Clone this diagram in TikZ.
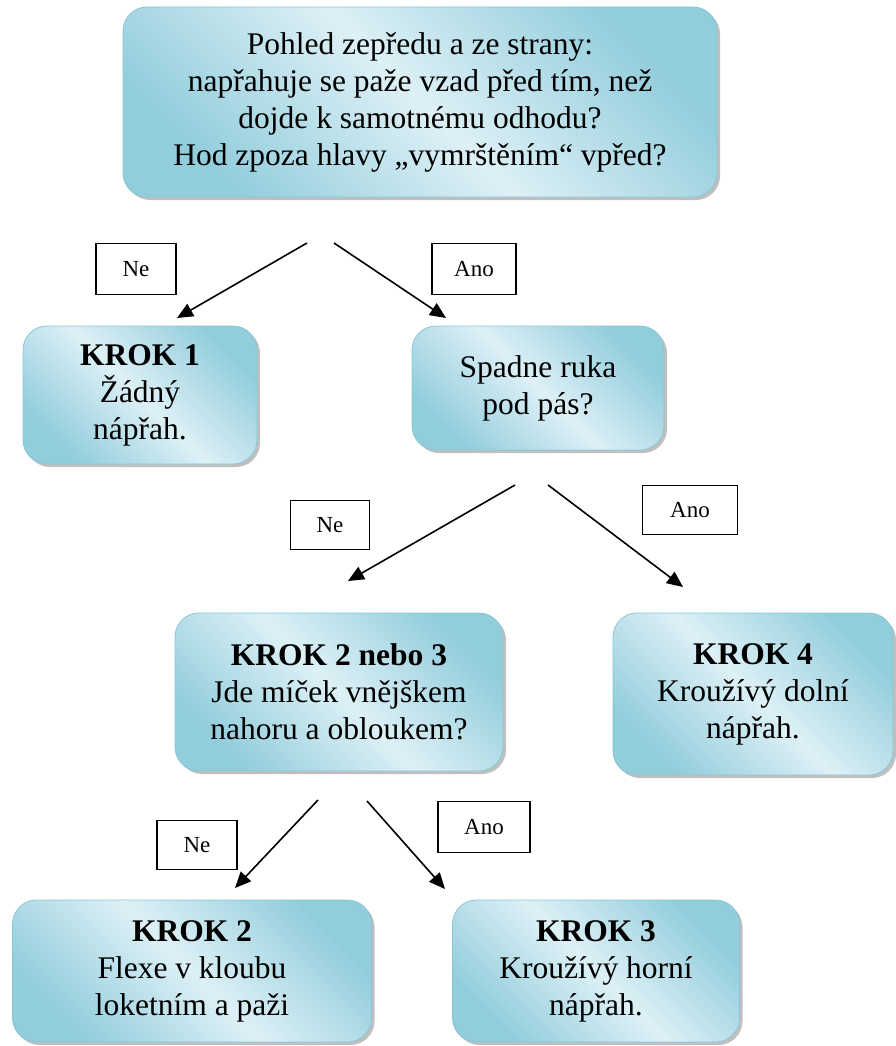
\documentclass[tikz,border=0pt]{standalone}
\usepackage{fontspec}
\setmainfont{Liberation Serif}
\usetikzlibrary{arrows.meta,shadows}
\definecolor{aquaD}{HTML}{92CDDC}
\definecolor{aquaL}{HTML}{DDF0F6}
\definecolor{aquaB}{HTML}{8AC6D6}
\begin{document}
\begin{tikzpicture}[x=1pt,y=-1pt,
  box/.style={rectangle, rounded corners=24pt, draw=aquaB, line width=0.8pt,
    left color=aquaD, right color=aquaD, middle color=aquaL, shading angle=135,
    align=center, font=\fontsize{31.5}{37}\selectfont, inner sep=0pt,
    drop shadow={shadow xshift=3pt, shadow yshift=-3pt, fill=black!50, opacity=0.5}},
  lab/.style={rectangle, draw=black, line width=1.3pt, fill=white,
    font=\fontsize{23}{27}\selectfont, inner sep=0pt},
  arr/.style={line width=1.6pt, -{Triangle[length=16pt,width=14pt]}}]
\useasboundingbox (0,0) rectangle (895,1046);

% boxes
\node[box, minimum width=594pt, minimum height=190pt] (q1) at (420,102)
  {\raisebox{-4pt}{\parbox{560pt}{\centering Pohled zepředu a ze strany:\\ napřahuje se paže vzad před tím, než\\ dojde k samotnému odhodu?\\ Hod zpoza hlavy „vymrštěním“ vpřed?}}};
\node[box, minimum width=234pt, minimum height=138pt] (k1) at (140,395)
  {\textbf{KROK 1}\\ Žádný\\ nápřah.};
\node[box, minimum width=252pt, minimum height=124pt] (q2) at (538,388)
  {Spadne ruka\\ pod pás?};
\node[box, minimum width=328pt, minimum height=158pt] (q3) at (339,692)
  {\textbf{KROK 2 nebo 3}\\ Jde míček vnějškem\\ nahoru a obloukem?};
\node[box, minimum width=280pt, minimum height=162pt] (k4) at (753,694)
  {\textbf{KROK 4}\\ Kroužívý dolní\\ nápřah.};
\node[box, minimum width=359pt, minimum height=142pt] (k2) at (192,971)
  {\textbf{KROK 2}\\ Flexe v kloubu\\ loketním a paži};
\node[box, minimum width=287pt, minimum height=142pt] (k3) at (596,971)
  {\textbf{KROK 3}\\ Kroužívý horní\\ nápřah.};

% labels
\node[lab, minimum width=80pt, minimum height=51pt] (ne1) at (136,269) {Ne};
\node[lab, minimum width=84pt, minimum height=51pt] (ano1) at (474,269) {Ano};
\node[lab, minimum width=79pt, minimum height=49pt] (ne2) at (330,525) {Ne};
\node[lab, minimum width=95pt, minimum height=49pt] (ano2) at (690,510) {Ano};
\node[lab, minimum width=80pt, minimum height=49pt] (ne3) at (197,845) {Ne};
\node[lab, minimum width=92pt, minimum height=51pt] (ano3) at (484,827) {Ano};

% arrow end points
\coordinate (a1s) at (307,243); \coordinate (a1e) at (177,318);
\coordinate (a2s) at (334,243); \coordinate (a2e) at (446,318);
\coordinate (b1s) at (515,485); \coordinate (b1e) at (348,581);
\coordinate (b2s) at (548,485); \coordinate (b2e) at (683,587);
\coordinate (c1s) at (318,800); \coordinate (c1e) at (235,888);
\coordinate (c2s) at (367,801); \coordinate (c2e) at (445,889);

\draw[arr] (a1s) -- (a1e);
\draw[arr] (a2s) -- (a2e);
\draw[arr] (b1s) -- (b1e);
\draw[arr] (b2s) -- (b2e);
\draw[arr] (c1s) -- (c1e);
\draw[arr] (c2s) -- (c2e);
\end{tikzpicture}
\end{document}
